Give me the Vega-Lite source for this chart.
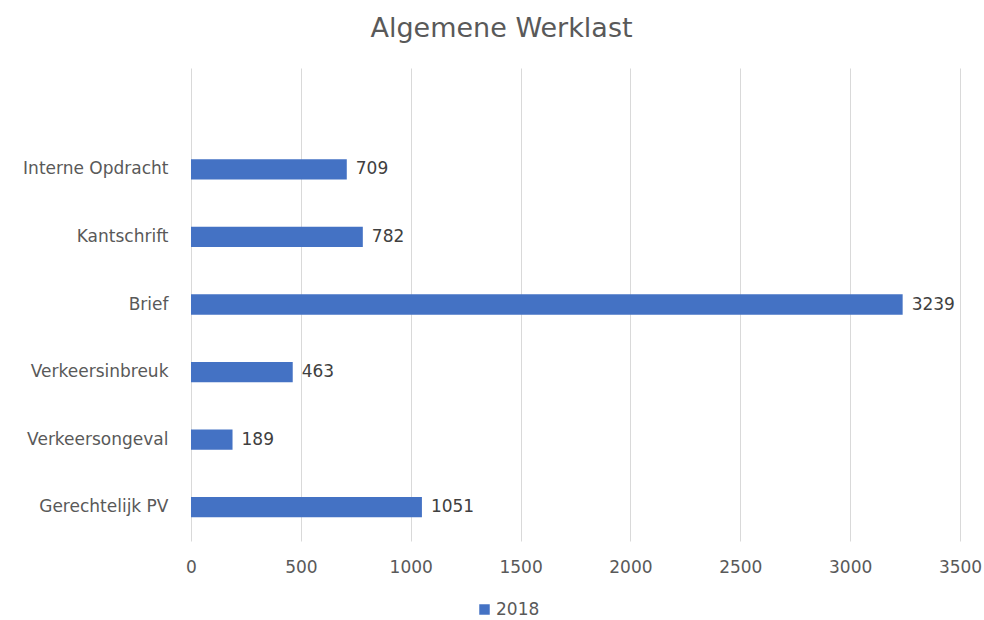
{
  "$schema": "https://vega.github.io/schema/vega-lite/v6.json",
  "width": 769,
  "height": 473,
  "autosize": {"type": "none"},
  "padding": {"left": 191, "top": 68, "right": 24, "bottom": 79},
  "background": "white",
  "title": {
    "text": "Algemene Werklast",
    "anchor": "middle",
    "frame": "group",
    "dx": -74,
    "offset": 25,
    "fontSize": 27,
    "fontWeight": "normal",
    "font": "DejaVu Sans",
    "color": "#595959"
  },
  "data": {
    "values": [
      {"categorie": "Interne Opdracht", "aantal": 709, "jaar": "2018"},
      {"categorie": "Kantschrift", "aantal": 782, "jaar": "2018"},
      {"categorie": "Brief", "aantal": 3239, "jaar": "2018"},
      {"categorie": "Verkeersinbreuk", "aantal": 463, "jaar": "2018"},
      {"categorie": "Verkeersongeval", "aantal": 189, "jaar": "2018"},
      {"categorie": "Gerechtelijk PV", "aantal": 1051, "jaar": "2018"}
    ]
  },
  "encoding": {
    "y": {
      "field": "categorie",
      "type": "nominal",
      "scale": {
        "domain": [" ", "Interne Opdracht", "Kantschrift", "Brief", "Verkeersinbreuk", "Verkeersongeval", "Gerechtelijk PV"],
        "paddingInner": 0.7,
        "paddingOuter": 0.35
      },
      "axis": {
        "title": null,
        "domain": false,
        "ticks": false,
        "labelPadding": 23,
        "labelFontSize": 17,
        "labelColor": "#595959",
        "labelFont": "DejaVu Sans",
        "grid": false
      }
    },
    "x": {
      "field": "aantal",
      "type": "quantitative",
      "scale": {"domain": [0, 3500], "nice": false},
      "axis": {
        "title": null,
        "format": "d",
        "values": [0, 500, 1000, 1500, 2000, 2500, 3000, 3500],
        "domain": false,
        "ticks": false,
        "grid": true,
        "gridColor": "#D9D9D9",
        "gridWidth": 1,
        "labelFlush": false,
        "labelPadding": 18,
        "labelFontSize": 17,
        "labelColor": "#595959",
        "labelFont": "DejaVu Sans"
      }
    }
  },
  "layer": [
    {
      "mark": {"type": "bar"},
      "encoding": {
        "color": {
          "field": "jaar",
          "type": "nominal",
          "scale": {"range": ["#4472C4"]},
          "legend": {
            "title": null,
            "orient": "none",
            "legendX": 285,
            "legendY": 533,
            "symbolType": "square",
            "symbolSize": 110,
            "symbolStrokeWidth": 0,
            "labelFontSize": 17,
            "labelColor": "#595959",
            "labelFont": "DejaVu Sans",
            "labelOffset": 3
          }
        }
      }
    },
    {
      "mark": {
        "type": "text",
        "align": "left",
        "baseline": "middle",
        "dx": 9,
        "fontSize": 17,
        "font": "DejaVu Sans",
        "color": "#404040"
      },
      "encoding": {
        "text": {"field": "aantal", "type": "quantitative", "format": "d"}
      }
    }
  ],
  "config": {
    "view": {"stroke": null}
  }
}
